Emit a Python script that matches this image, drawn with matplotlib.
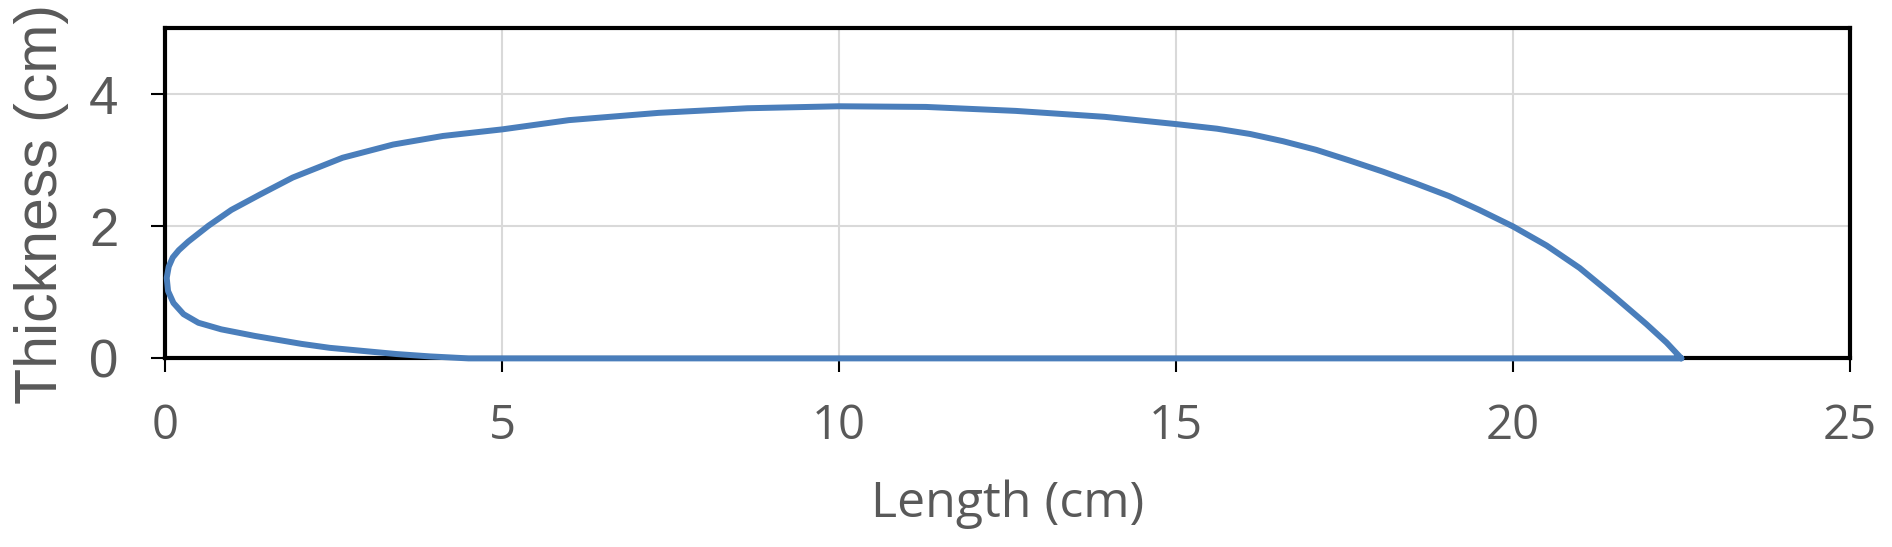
import matplotlib
matplotlib.use("Agg")
import matplotlib.pyplot as plt

# profile, traced from the trailing edge along the
# flat bottom, round the nose and back along the top
length_cm = [22.5, 4.5, 3.93, 3.43, 2.44, 2.02, 1.33, 0.83, 0.49, 0.27,
             0.12, 0.04, 0.02, 0.05, 0.11, 0.2, 0.34, 0.64, 0.98, 1.4,
             1.89, 2.63, 3.38, 4.12, 5.0, 5.99, 7.32, 8.64, 10.0, 11.29,
             12.62, 13.94, 15.0, 15.61, 16.1, 16.59, 17.08, 17.57, 18.07, 18.56,
             19.05, 19.5, 20.0, 20.5, 20.99, 21.49, 21.98, 22.28, 22.5]
thickness_cm = [0.0, 0.0, 0.03, 0.066, 0.16, 0.22, 0.34, 0.44, 0.54, 0.67,
                0.84, 1.02, 1.22, 1.39, 1.53, 1.64, 1.77, 2.01, 2.25, 2.48,
                2.74, 3.04, 3.24, 3.37, 3.47, 3.61, 3.72, 3.79, 3.82, 3.81,
                3.75, 3.66, 3.55, 3.48, 3.4, 3.29, 3.16, 3.0, 2.83, 2.65,
                2.46, 2.25, 2.0, 1.71, 1.37, 0.95, 0.52, 0.24, 0.0]

x_ticks = [0, 5, 10, 15, 20, 25]
y_ticks = [0, 2, 4]

grey = "#595959"

fig = plt.figure(figsize=(18.92, 5.47), dpi=100)
ax = fig.add_axes([0.0874, 0.3448, 0.8903, 0.6033])

ax.plot(length_cm, thickness_cm, color="#4a7ebb", lw=4.3,
        solid_joinstyle="round", solid_capstyle="round",
        zorder=3, clip_on=False)

ax.set_xlim(0, 25)
ax.set_ylim(0, 5)
ax.set_xticks(x_ticks)
ax.set_yticks(y_ticks)
ax.grid(True, color="#d9d9d9", lw=1.5, zorder=0)

for s in ax.spines.values():
    s.set_linewidth(3)
    s.set_color("black")

ax.tick_params(axis="both", direction="out", length=10, width=1.5,
               color="black")
ax.tick_params(axis="y", pad=24)
ax.tick_params(axis="x", pad=22)

for lab in ax.get_xticklabels():
    lab.set_fontfamily("Open Sans")
    lab.set_fontsize(34)
    lab.set_color(grey)
for lab in ax.get_yticklabels():
    lab.set_fontfamily("Liberation Sans")
    lab.set_fontsize(38)
    lab.set_color(grey)

ax.set_xlabel("Length (cm)", fontfamily="Open Sans", fontsize=36, color=grey)
ax.xaxis.set_label_coords(0.5, -0.48)
ax.xaxis.label.set_va("baseline")

ax.set_ylabel("Thickness (cm)", fontfamily="Liberation Sans", fontsize=42.5,
              color=grey)
ax.yaxis.set_label_coords(-0.0738, 0.468)
ax.yaxis.label.set_va("center")

fig.savefig("out.png", dpi=100)
